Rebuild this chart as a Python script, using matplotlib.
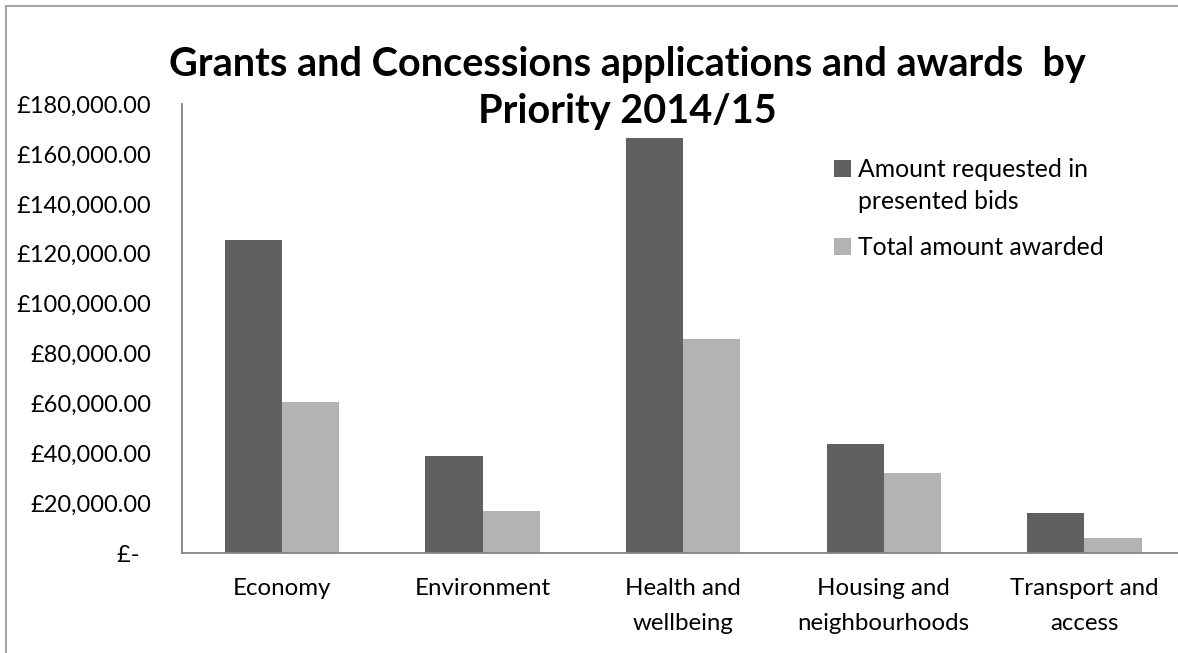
import matplotlib
matplotlib.use("Agg")
import matplotlib.pyplot as plt
import matplotlib.patches as mpatches
from matplotlib.ticker import FuncFormatter
from matplotlib.legend_handler import HandlerPatch, update_from_first_child
import numpy as np

categories = ["Economy", "Environment", "Health and\nwellbeing",
              "Housing and\nneighbourhoods", "Transport and\naccess"]
requested = [125500, 38900, 166400, 43600, 16300]
awarded = [60700, 16800, 85900, 32000, 6300]
series_names = ["Amount requested in\npresented bids", "Total amount awarded"]
yticks = [0, 20000, 40000, 60000, 80000, 100000, 120000, 140000, 160000, 180000]
title = "Grants and Concessions applications and awards  by\nPriority 2014/15"

FAM = "Lato"
DPI = 100
W, H = 1178, 653
fig = plt.figure(figsize=(W / DPI, H / DPI), dpi=DPI)
fig.patch.set_facecolor("white")

renderer = fig.canvas.get_renderer()


def fit(text, target_px, weight="normal", ref=20):
    t = fig.text(0, 0, text, fontsize=ref, family=FAM, weight=weight)
    w = t.get_window_extent(renderer).width
    t.remove()
    return ref * target_px / w


tick_fs = fit("£180,000.00", 134)
cat_fs = fit("Economy", 98)
leg_fs = fit("Total amount awarded", 246)
title_fs = fit("Grants and Concessions applications and awards  by", 917, "bold")

# outer chart border (cropped at right/bottom)
fig.add_artist(mpatches.Rectangle((5.5 / W, -0.05), 1.2, 1 - 5.5 / H + 0.05,
                                  transform=fig.transFigure, fill=False,
                                  edgecolor="#a6a6a6", linewidth=1.5))

left = 181.7 / W
bottom = (H - 553.3) / H
top = (H - 104) / H
width = 5 * 200.6 / W
ax = fig.add_axes([left, bottom, width, top - bottom])

x = np.arange(len(categories))
bw = 0.285
b1 = ax.bar(x - bw / 2, requested, bw, color="#606060", label=series_names[0])
b2 = ax.bar(x + bw / 2, awarded, bw, color="#b3b3b3", label=series_names[1])

ax.set_xlim(-0.5, len(categories) - 0.5)
ax.set_ylim(0, 180000)
ax.set_yticks(yticks)


def fmt(v, pos):
    if v == 0:
        return "£-  "
    return "£{:,.2f}".format(v)


ax.yaxis.set_major_formatter(FuncFormatter(fmt))
ax.set_xticks(x)
ax.set_xticklabels(categories, linespacing=1.78)

for s in ["top", "right"]:
    ax.spines[s].set_visible(False)
ax.spines["left"].set_color("#868686")
ax.spines["bottom"].set_color("#868686")
ax.spines["left"].set_linewidth(1.3)
ax.spines["bottom"].set_linewidth(1.3)
ax.tick_params(axis="y", length=0, pad=22, labelsize=tick_fs, labelcolor="black")
ax.tick_params(axis="x", length=0, pad=18, labelsize=cat_fs, labelcolor="black")
for lab in ax.get_xticklabels() + ax.get_yticklabels():
    lab.set_family(FAM)

fig.text(627 / W, 1 - 88 / H, title, ha="center", va="center", family=FAM,
         weight="bold", fontsize=title_fs, linespacing=1.34)


class ShiftedHandler(HandlerPatch):
    def __init__(self, dy_frac=0.0, **kw):
        super().__init__(update_func=update_from_first_child, **kw)
        self.dy_frac = dy_frac

    def create_artists(self, legend, orig_handle, xdescent, ydescent,
                       width, height, fontsize, trans):
        p = mpatches.Rectangle((-xdescent, -ydescent + self.dy_frac * fontsize),
                               width, height)
        self.update_prop(p, orig_handle, legend)
        p.set_transform(trans)
        return [p]


leg = ax.legend(handles=[b1, b2], labels=series_names,
                loc="upper left", bbox_to_anchor=(834 / W, 1 - 158 / H),
                bbox_transform=fig.transFigure, frameon=False,
                prop={"family": FAM, "size": leg_fs},
                handler_map={b1: ShiftedHandler(0.72), b2: ShiftedHandler(0.0)},
                handlelength=0.68, handleheight=0.68, handletextpad=0.3,
                labelspacing=0.95, borderaxespad=0, borderpad=0)
for t in leg.get_texts():
    t.set_linespacing(1.45)

fig.savefig("out.png", dpi=DPI, facecolor="white")
